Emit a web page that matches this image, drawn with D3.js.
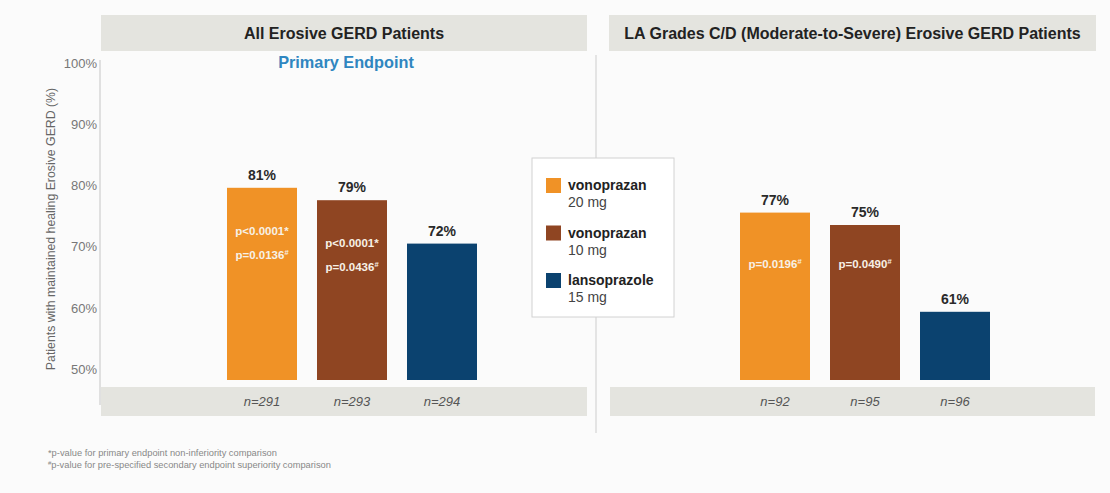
<!DOCTYPE html>
<html lang="en">
<head>
<meta charset="utf-8">
<script src="https://d3js.org/d3.v7.min.js"></script>
<style>
  body { margin: 0; background: #fbfbfb; }
  svg { background: #fbfbfb; font-family: 'Liberation Sans', Arial, sans-serif; }
  .title { font-size: 16px; font-weight: bold; fill: #222; text-anchor: middle; }
  .tick-label { font-size: 13px; fill: #777; }
  .val { font-size: 14px; font-weight: bold; fill: #2a2a2a; text-anchor: middle; }
  .pval { font-size: 11.5px; font-weight: bold; fill: #f7f1e6; text-anchor: middle; }
  .nlab { font-size: 13px; font-style: italic; fill: #555; text-anchor: middle; }
  .foot { font-size: 9.3px; fill: #888; }
</style>
</head>
<body>
<div id="chart"></div>
<script>
var width = 1110, height = 493;

// data
var groups = ["vonoprazan 20 mg", "vonoprazan 10 mg", "lansoprazole 15 mg"];
var legendNames = ["vonoprazan", "vonoprazan", "lansoprazole"];
var legendDoses = ["20 mg", "10 mg", "15 mg"];
var colors = ["#f09226", "#8f4522", "#0b426f"];

var allValues = [81, 79, 72];
var allN = [291, 293, 294];
var allP = [["p<0.0001*", "p=0.0136#"], ["p<0.0001*", "p=0.0436#"], []];

var cdValues = [77, 75, 61];
var cdN = [92, 95, 96];
var cdP = [["p=0.0196#"], ["p=0.0490#"], []];

var yTicks = [50, 60, 70, 80, 90, 100];

var svg = d3.select("#chart").append("svg")
  .attr("width", width)
  .attr("height", height);

// axis labels sit a little above the bar scale in the original slide
var yAxisScale = d3.scaleLinear().domain([50, 100]).range([368.5, 63]);
var yBar = d3.scaleLinear().domain([50, 100]).range([380, 70]);

// title bars
var titles = [
  {text: "All Erosive GERD Patients", x0: 101, x1: 587},
  {text: "LA Grades C/D (Moderate-to-Severe) Erosive GERD Patients", x0: 609, x1: 1096}
];
titles.forEach(function(t) {
  svg.append("rect").attr("x", t.x0).attr("y", 15).attr("width", t.x1 - t.x0).attr("height", 36)
    .attr("fill", "#e4e4df");
  svg.append("text").attr("class", "title").attr("x", (t.x0 + t.x1) / 2).attr("y", 39).text(t.text);
});

// separator between panels
svg.append("line").attr("x1", 596).attr("x2", 596).attr("y1", 55).attr("y2", 433)
  .attr("stroke", "#d6d6d6").attr("stroke-width", 1.2);

// y axis
var yAxis = d3.axisLeft(yAxisScale).tickValues(yTicks).tickSize(0).tickPadding(3)
  .tickFormat(function(d) { return d + "%"; });
var ax = svg.append("g").attr("transform", "translate(100,0)").call(yAxis);
ax.select(".domain").remove();
ax.selectAll("text").attr("class", "tick-label").attr("dy", "0.36em");
svg.append("line").attr("x1", 100).attr("x2", 100).attr("y1", 60).attr("y2", 405)
  .attr("stroke", "#cfcfcf").attr("stroke-width", 1.2);

svg.append("text")
  .attr("transform", "translate(55,229) rotate(-90)")
  .attr("text-anchor", "middle")
  .style("font-size", "12.3px").style("fill", "#666")
  .text("Patients with maintained healing Erosive GERD (%)");

svg.append("text").attr("x", 346).attr("y", 68).attr("text-anchor", "middle")
  .style("font-size", "16.3px").style("font-weight", "bold").style("fill", "#2f86c0")
  .text("Primary Endpoint");

function panel(values, ns, ps, range, band, pY) {
  var x = d3.scaleBand().domain(groups).range(range).paddingInner(2 / 9).paddingOuter(1 / 9);

  svg.append("rect").attr("x", band[0]).attr("y", 387).attr("width", band[1] - band[0]).attr("height", 29)
    .attr("fill", "#e4e4df");

  var g = svg.append("g");
  g.selectAll(".bar").data(values).enter().append("rect")
    .attr("class", "bar")
    .attr("x", function(d, i) { return x(groups[i]); })
    .attr("width", x.bandwidth())
    .attr("y", function(d) { return yBar(d); })
    .attr("height", function(d) { return yBar(50) - yBar(d); })
    .attr("fill", function(d, i) { return colors[i]; });

  g.selectAll(".val").data(values).enter().append("text")
    .attr("class", "val")
    .attr("x", function(d, i) { return x(groups[i]) + x.bandwidth() / 2; })
    .attr("y", function(d) { return yBar(d) - 8; })
    .text(function(d) { return d + "%"; });

  g.selectAll(".nlab").data(ns).enter().append("text")
    .attr("class", "nlab")
    .attr("x", function(d, i) { return x(groups[i]) + x.bandwidth() / 2; })
    .attr("y", 406)
    .text(function(d) { return "n=" + d; });

  ps.forEach(function(lines, i) {
    lines.forEach(function(s, j) {
      var t = g.append("text").attr("class", "pval")
        .attr("x", x(groups[i]) + x.bandwidth() / 2)
        .attr("y", pY(values[i]) + j * 24);
      if (s.slice(-1) === "#") {
        t.append("tspan").text(s.slice(0, -1));
        t.append("tspan").attr("dy", -4).style("font-size", "7.5px").text("#");
      } else {
        t.text(s);
      }
    });
  });
}

panel(allValues, allN, allP, [217, 487], [101, 587], function(v) { return yBar(v) + 47; });
panel(cdValues, cdN, cdP, [730, 1000], [610, 1095], function(v) { return yBar(68); });

// legend
var lg = svg.append("g");
lg.append("rect").attr("x", 532).attr("y", 158).attr("width", 142).attr("height", 159)
  .attr("fill", "#fff").attr("stroke", "#d2d2d2").attr("stroke-width", 1);
groups.forEach(function(gname, i) {
  var y0 = 178 + i * 47.5;
  lg.append("rect").attr("x", 546).attr("y", y0).attr("width", 15).attr("height", 15).attr("fill", colors[i]);
  lg.append("text").attr("x", 568).attr("y", y0 + 12)
    .style("font-size", "14px").style("font-weight", "bold").style("fill", "#222")
    .text(legendNames[i]);
  lg.append("text").attr("x", 568).attr("y", y0 + 29)
    .style("font-size", "14px").style("fill", "#444")
    .text(legendDoses[i]);
});

// footnotes
svg.append("text").attr("class", "foot").attr("x", 48).attr("y", 456)
  .text("*p-value for primary endpoint non-inferiority comparison");
var f2 = svg.append("text").attr("class", "foot").attr("x", 48).attr("y", 468);
f2.append("tspan").attr("dy", -3).style("font-size", "6px").text("#");
f2.append("tspan").attr("dy", 3).text("p-value for pre-specified secondary endpoint superiority comparison");
</script>
</body>
</html>
